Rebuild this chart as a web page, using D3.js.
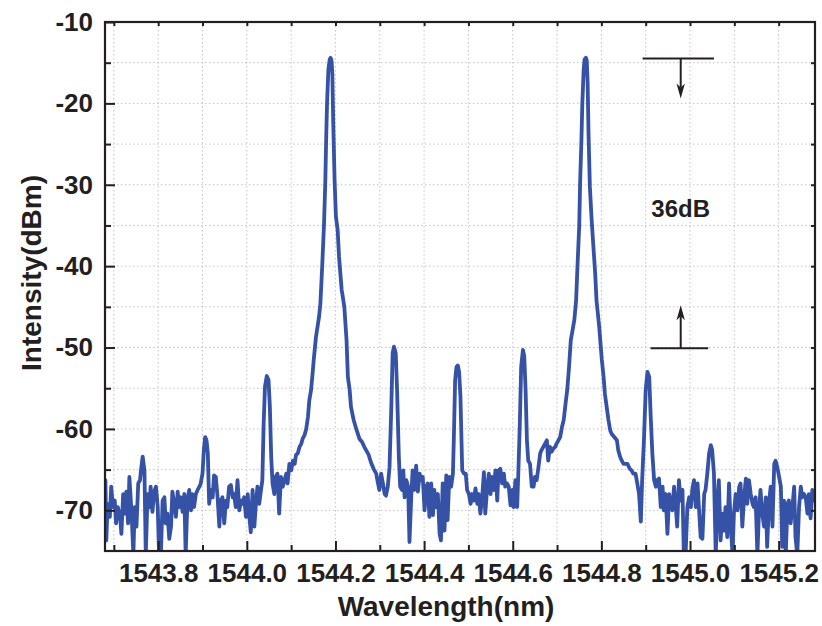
<!DOCTYPE html>
<html>
<head>
<meta charset="utf-8">
<script src="https://cdn.jsdelivr.net/npm/d3@7"></script>
<style>
  html, body { margin: 0; padding: 0; background: #ffffff; }
  svg { display: block; }
  text { font-family: "Liberation Sans", Arial, Helvetica, sans-serif; font-weight: bold; fill: #231f20; }
</style>
</head>
<body>
<svg id="chart" width="822" height="626"></svg>
<script>
// ---------------- data ----------------
const wavelength = [
1543.681,1543.683,1543.686,1543.691,1543.694,1543.698,1543.702,1543.705,1543.709,1543.714,
1543.717,1543.721,1543.725,1543.728,1543.732,1543.735,1543.740,1543.744,1543.747,1543.751,
1543.755,1543.759,1543.762,1543.765,1543.769,1543.772,1543.776,1543.780,1543.783,1543.787,
1543.791,1543.795,1543.799,1543.802,1543.806,1543.810,1543.814,1543.817,1543.821,1543.825,
1543.829,1543.832,1543.836,1543.840,1543.844,1543.847,1543.851,1543.855,1543.859,1543.862,
1543.866,1543.870,1543.874,1543.877,1543.881,1543.885,1543.889,1543.893,1543.896,1543.900,
1543.903,1543.906,1543.909,1543.912,1543.915,1543.919,1543.923,1543.926,1543.930,1543.934,
1543.938,1543.941,1543.945,1543.949,1543.953,1543.956,1543.960,1543.964,1543.968,1543.971,
1543.975,1543.979,1543.983,1543.987,1543.990,1543.994,1543.998,1544.002,1544.005,1544.009,
1544.013,1544.017,1544.020,1544.024,1544.028,1544.032,1544.035,1544.038,1544.041,1544.045,
1544.049,1544.052,1544.055,1544.058,1544.062,1544.065,1544.069,1544.073,1544.077,1544.081,
1544.085,1544.089,1544.092,1544.096,1544.100,1544.104,1544.108,1544.111,1544.115,1544.119,
1544.123,1544.126,1544.130,1544.134,1544.138,1544.141,1544.145,1544.149,1544.151,1544.156,
1544.163,1544.166,1544.170,1544.174,1544.177,1544.179,1544.181,1544.184,1544.187,1544.189,
1544.191,1544.193,1544.195,1544.198,1544.201,1544.205,1544.208,1544.214,1544.220,1544.225,
1544.228,1544.232,1544.235,1544.241,1544.247,1544.254,1544.260,1544.265,1544.271,1544.275,
1544.280,1544.286,1544.292,1544.296,1544.299,1544.303,1544.307,1544.311,1544.314,1544.318,
1544.322,1544.326,1544.329,1544.332,1544.336,1544.339,1544.343,1544.346,1544.350,1544.353,
1544.356,1544.360,1544.364,1544.367,1544.371,1544.374,1544.378,1544.382,1544.386,1544.390,
1544.393,1544.397,1544.401,1544.405,1544.408,1544.412,1544.416,1544.420,1544.423,1544.427,
1544.431,1544.435,1544.438,1544.442,1544.446,1544.450,1544.453,1544.457,1544.461,1544.465,
1544.467,1544.470,1544.473,1544.476,1544.479,1544.482,1544.486,1544.490,1544.494,1544.497,
1544.501,1544.505,1544.508,1544.512,1544.516,1544.520,1544.523,1544.527,1544.531,1544.535,
1544.538,1544.542,1544.546,1544.550,1544.553,1544.557,1544.561,1544.565,1544.568,1544.572,
1544.576,1544.580,1544.583,1544.587,1544.591,1544.595,1544.599,1544.602,1544.606,1544.610,
1544.613,1544.616,1544.619,1544.623,1544.626,1544.629,1544.632,1544.635,1544.639,1544.643,
1544.647,1544.650,1544.654,1544.658,1544.662,1544.665,1544.669,1544.673,1544.677,1544.680,
1544.684,1544.688,1544.692,1544.696,1544.699,1544.703,1544.707,1544.711,1544.715,1544.720,
1544.723,1544.727,1544.731,1544.739,1544.743,1544.746,1544.750,1544.752,1544.755,1544.757,
1544.760,1544.762,1544.765,1544.767,1544.769,1544.771,1544.774,1544.778,1544.782,1544.786,
1544.789,1544.795,1544.801,1544.805,1544.808,1544.812,1544.816,1544.820,1544.823,1544.829,
1544.835,1544.838,1544.842,1544.846,1544.850,1544.855,1544.859,1544.864,1544.868,1544.872,
1544.877,1544.881,1544.885,1544.889,1544.892,1544.896,1544.900,1544.904,1544.908,1544.911,
1544.915,1544.919,1544.923,1544.926,1544.930,1544.934,1544.938,1544.941,1544.945,1544.949,
1544.953,1544.956,1544.960,1544.964,1544.968,1544.971,1544.975,1544.979,1544.983,1544.986,
1544.990,1544.994,1544.998,1545.002,1545.005,1545.009,1545.013,1545.017,1545.020,1545.024,
1545.028,1545.032,1545.035,1545.039,1545.043,1545.047,1545.050,1545.054,1545.058,1545.062,
1545.065,1545.069,1545.073,1545.077,1545.080,1545.084,1545.088,1545.092,1545.096,1545.099,
1545.103,1545.107,1545.111,1545.114,1545.118,1545.122,1545.126,1545.129,1545.133,1545.137,
1545.141,1545.144,1545.148,1545.152,1545.156,1545.159,1545.163,1545.167,1545.171,1545.174,
1545.178,1545.182,1545.186,1545.190,1545.193,1545.197,1545.201,1545.205,1545.208,1545.212,
1545.216,1545.220,1545.223,1545.227,1545.231,1545.235,1545.238,1545.242,1545.246,1545.250,
1545.253,1545.257,1545.261,1545.265,1545.268,1545.272,1545.276,1545.280
];
const intensity = [
-66.3,-73.7,-69.2,-70.8,-67.1,-69.6,-68.8,-71.6,-69.6,-70.8,
-72.9,-68.0,-70.4,-67.7,-71.6,-65.9,-70.4,-75.5,-69.6,-72.0,
-66.7,-66.3,-64.7,-63.4,-65.1,-75.5,-68.0,-69.6,-67.1,-70.2,
-67.7,-67.1,-69.6,-75.5,-75.5,-68.8,-68.4,-71.6,-70.4,-73.5,
-72.0,-67.7,-69.2,-70.8,-67.7,-69.6,-68.4,-70.2,-68.0,-75.5,
-68.8,-67.5,-70.0,-68.0,-69.6,-68.0,-67.5,-67.1,-66.7,-65.5,
-62.6,-61.0,-61.4,-63.0,-69.2,-67.5,-68.4,-65.7,-65.9,-68.4,
-72.0,-68.8,-68.4,-71.6,-68.8,-69.6,-67.1,-66.9,-68.4,-68.0,
-69.6,-66.3,-70.0,-68.8,-69.2,-68.4,-70.8,-68.0,-70.4,-72.7,
-67.5,-72.0,-69.6,-67.1,-69.2,-67.5,-66.3,-59.3,-54.8,-53.5,
-54.0,-57.3,-63.4,-66.7,-68.0,-65.9,-65.5,-70.4,-65.9,-67.1,
-66.3,-65.5,-66.7,-64.3,-65.1,-63.9,-64.3,-63.2,-63.0,-62.2,
-61.8,-61.2,-60.8,-60.0,-58.5,-56.5,-55.2,-52.8,-51.5,-48.7,
-46.2,-44.6,-40.1,-35.1,-29.8,-24.5,-20.0,-15.9,-14.6,-14.4,
-14.7,-16.3,-22.4,-29.4,-33.9,-35.6,-38.8,-42.9,-45.0,-49.1,
-53.6,-55.2,-57.3,-58.9,-60.0,-61.2,-61.6,-62.2,-62.8,-63.2,
-64.1,-64.9,-65.5,-66.7,-67.5,-65.5,-66.7,-68.0,-68.2,-67.1,
-64.7,-57.3,-50.7,-49.9,-50.7,-55.2,-63.4,-67.1,-67.5,-65.1,
-68.4,-66.3,-67.1,-73.9,-68.4,-65.1,-67.5,-64.5,-67.7,-65.5,
-66.3,-65.9,-70.0,-67.1,-66.7,-70.8,-66.7,-70.6,-67.5,-69.6,
-68.0,-72.9,-73.7,-66.7,-72.5,-65.7,-71.2,-65.9,-67.1,-65.5,
-61.4,-54.0,-52.4,-52.2,-53.0,-56.0,-65.1,-65.5,-65.5,-67.5,
-68.0,-69.2,-68.0,-68.8,-67.3,-69.2,-68.0,-70.4,-68.4,-65.3,
-70.4,-67.5,-65.5,-68.0,-65.9,-67.5,-65.1,-68.8,-65.1,-64.9,
-66.7,-65.5,-67.1,-66.7,-67.1,-69.4,-67.5,-69.6,-66.3,-69.6,
-64.7,-59.3,-52.4,-50.3,-51.1,-55.2,-61.4,-63.9,-64.3,-67.1,
-67.1,-65.9,-66.3,-64.7,-63.0,-62.6,-62.2,-61.8,-61.4,-63.9,
-62.2,-62.8,-62.4,-62.2,-61.8,-61.4,-61.0,-59.8,-58.9,-56.5,
-55.2,-52.4,-49.1,-46.6,-44.2,-40.1,-35.1,-29.8,-24.5,-20.0,
-15.9,-14.6,-14.4,-14.7,-17.5,-23.7,-30.2,-34.3,-37.6,-40.9,
-44.2,-47.4,-51.5,-53.6,-55.7,-57.3,-58.9,-60.2,-60.6,-61.0,
-61.4,-62.6,-63.4,-63.9,-64.3,-64.3,-64.3,-64.9,-65.1,-65.5,
-65.5,-66.7,-68.0,-71.4,-66.3,-61.4,-55.2,-53.0,-53.6,-58.1,
-63.0,-66.3,-67.1,-66.3,-66.1,-69.6,-67.1,-70.0,-68.0,-72.9,
-68.0,-69.2,-70.0,-67.1,-69.6,-72.0,-66.3,-68.8,-67.5,-75.5,
-75.5,-69.6,-68.4,-69.6,-67.5,-66.3,-69.6,-66.7,-69.6,-73.3,
-73.5,-68.0,-67.5,-65.5,-63.0,-62.0,-62.6,-65.5,-75.5,-68.8,
-66.3,-73.7,-70.4,-72.5,-69.6,-73.3,-66.7,-72.0,-75.5,-70.4,
-68.0,-70.0,-67.1,-66.7,-72.0,-68.4,-66.1,-69.2,-66.3,-68.0,
-69.2,-69.6,-68.4,-75.5,-69.6,-67.5,-70.4,-72.0,-68.4,-74.5,
-69.2,-67.1,-72.0,-64.3,-63.9,-64.7,-65.9,-67.1,-74.5,-68.8,
-75.5,-69.2,-68.8,-71.6,-69.6,-67.1,-73.3,-75.5,-69.6,-67.1,
-68.4,-68.0,-68.4,-70.4,-68.0,-71.0,-67.5,-68.8
];

const xMajorTicks = [1543.8, 1544.0, 1544.2, 1544.4, 1544.6, 1544.8, 1545.0, 1545.2];
const xMinorTicks = [1543.7, 1543.9, 1544.1, 1544.3, 1544.5, 1544.7, 1544.9, 1545.1];
const yMajorTicks = [-70, -60, -50, -40, -30, -20, -10];
const yMinorTicks = [-75, -65, -55, -45, -35, -25, -15];
const xDomain = [1543.680, 1545.282];
const yDomain = [-75, -10];

const xTitle = "Wavelength(nm)";
const yTitle = "Intensity(dBm)";
const annotationText = "36dB";
// annotation: level bars (dB), their wavelength extents, arrow wavelength and arrow tips (dB)
const peakLevel = -14.5, floorLevel = -50.1;
const peakBar = [1544.893, 1545.054];
const floorBar = [1544.911, 1545.041];
const arrowX = 1544.979;
const downArrowTip = -19.4, upArrowTip = -44.8;
const labelPos = [1544.979, -33.9];

// ---------------- layout ----------------
const W = 822, H = 626;
const margin = { left: 105, top: 22, right: 822 - 815, bottom: 626 - 551 };
const pw = W - margin.left - margin.right;
const ph = H - margin.top - margin.bottom;
const AX = "#231f20";
const LINE = "#3652a6";

const svg = d3.select("#chart");
const g = svg.append("g").attr("transform", `translate(${margin.left},${margin.top})`);

const x = d3.scaleLinear().domain(xDomain).range([0, pw]);
const y = d3.scaleLinear().domain(yDomain).range([ph, 0]);

// grid
const grid = g.append("g").attr("class", "grid");
const gridX = xMajorTicks.concat(xMinorTicks);
const gridY = yMajorTicks.concat(yMinorTicks).filter(v => v > yDomain[0] && v < yDomain[1]);
grid.selectAll("line.gx").data(gridX).join("line")
  .attr("x1", d => x(d)).attr("x2", d => x(d)).attr("y1", 0).attr("y2", ph)
  .attr("stroke", "#c4c4c4").attr("stroke-width", 1).attr("stroke-dasharray", "1.5,2.5");
grid.selectAll("line.gy").data(gridY).join("line")
  .attr("x1", 0).attr("x2", pw).attr("y1", d => y(d)).attr("y2", d => y(d))
  .attr("stroke", "#c4c4c4").attr("stroke-width", 1).attr("stroke-dasharray", "1.5,2.5");

// clip
svg.append("defs").append("clipPath").attr("id", "plotclip")
  .append("rect").attr("x", 0).attr("y", 0).attr("width", pw).attr("height", ph);

// spectrum line
const pts = wavelength.map((w, i) => [w, intensity[i]]);
const line = d3.line().x(d => x(d[0])).y(d => y(d[1]));
g.append("path").datum(pts)
  .attr("clip-path", "url(#plotclip)")
  .attr("fill", "none").attr("stroke", LINE).attr("stroke-width", 3.8)
  .attr("stroke-linejoin", "round").attr("stroke-linecap", "round")
  .attr("d", line);

// axes
function styleAxis(sel) {
  sel.select(".domain").remove();
  sel.selectAll(".tick line").attr("stroke", AX).attr("stroke-width", 2);
}
const fx = d3.format(".1f");
// bottom major
const bx = g.append("g").attr("transform", `translate(0,${ph})`)
  .call(d3.axisBottom(x).tickValues(xMajorTicks).tickSize(-10).tickPadding(13).tickFormat(fx));
styleAxis(bx);
bx.selectAll(".tick text").attr("font-size", 26).attr("fill", AX)
  .style("font-family", '"Liberation Sans", Arial, sans-serif').style("font-weight", "bold");
// bottom minor
styleAxis(g.append("g").attr("transform", `translate(0,${ph})`)
  .call(d3.axisBottom(x).tickValues(xMinorTicks).tickSize(-6).tickFormat("")));
// left major (plain hyphen-minus as in the reference)
const ly = g.append("g")
  .call(d3.axisLeft(y).tickValues(yMajorTicks).tickSize(-10).tickPadding(12).tickFormat(d => String(d)));
styleAxis(ly);
ly.selectAll(".tick text").attr("font-size", 26).attr("fill", AX)
  .style("font-family", '"Liberation Sans", Arial, sans-serif').style("font-weight", "bold");
// left minor
styleAxis(g.append("g").call(d3.axisLeft(y).tickValues(yMinorTicks.filter(v => v > yDomain[0])).tickSize(-6).tickFormat("")));
// top & right small inward ticks
styleAxis(g.append("g").call(d3.axisTop(x).tickValues(gridX).tickSize(-4).tickFormat("")));
styleAxis(g.append("g").attr("transform", `translate(${pw},0)`)
  .call(d3.axisRight(y).tickValues(gridY).tickSize(-4).tickFormat("")));

// frame
g.append("rect").attr("x", 0).attr("y", 0).attr("width", pw).attr("height", ph)
  .attr("fill", "none").attr("stroke", AX).attr("stroke-width", 2.2);

// axis titles
svg.append("text").attr("x", 446).attr("y", 616).attr("text-anchor", "middle")
  .attr("font-size", 28).text(xTitle);
svg.append("text").attr("transform", "translate(41,273) rotate(-90)").attr("text-anchor", "middle")
  .attr("font-size", 28).text(yTitle);

// annotation
const ann = g.append("g").attr("stroke", AX).attr("fill", AX);
ann.append("line").attr("x1", x(peakBar[0])).attr("x2", x(peakBar[1]))
  .attr("y1", y(peakLevel)).attr("y2", y(peakLevel)).attr("stroke-width", 2);
ann.append("line").attr("x1", x(floorBar[0])).attr("x2", x(floorBar[1]))
  .attr("y1", y(floorLevel)).attr("y2", y(floorLevel)).attr("stroke-width", 2);
function arrow(x0, yFrom, yTip) {
  const ax = x(x0), y0 = y(yFrom), yt = y(yTip);
  const dir = yt > y0 ? 1 : -1; // pixel direction of travel
  const headLen = 15, half = 4.2, notch = 4;
  ann.append("line").attr("x1", ax).attr("x2", ax).attr("y1", y0).attr("y2", yt - dir * (headLen - notch))
    .attr("stroke-width", 2);
  ann.append("path").attr("stroke", "none")
    .attr("d", `M${ax},${yt} L${ax - half},${yt - dir * headLen} L${ax},${yt - dir * (headLen - notch)} L${ax + half},${yt - dir * headLen} Z`);
}
arrow(arrowX, peakLevel, downArrowTip);
arrow(arrowX, floorLevel, upArrowTip);
g.append("text").attr("x", x(labelPos[0])).attr("y", y(labelPos[1])).attr("text-anchor", "middle")
  .attr("font-size", 24).text(annotationText);
</script>
</body>
</html>
